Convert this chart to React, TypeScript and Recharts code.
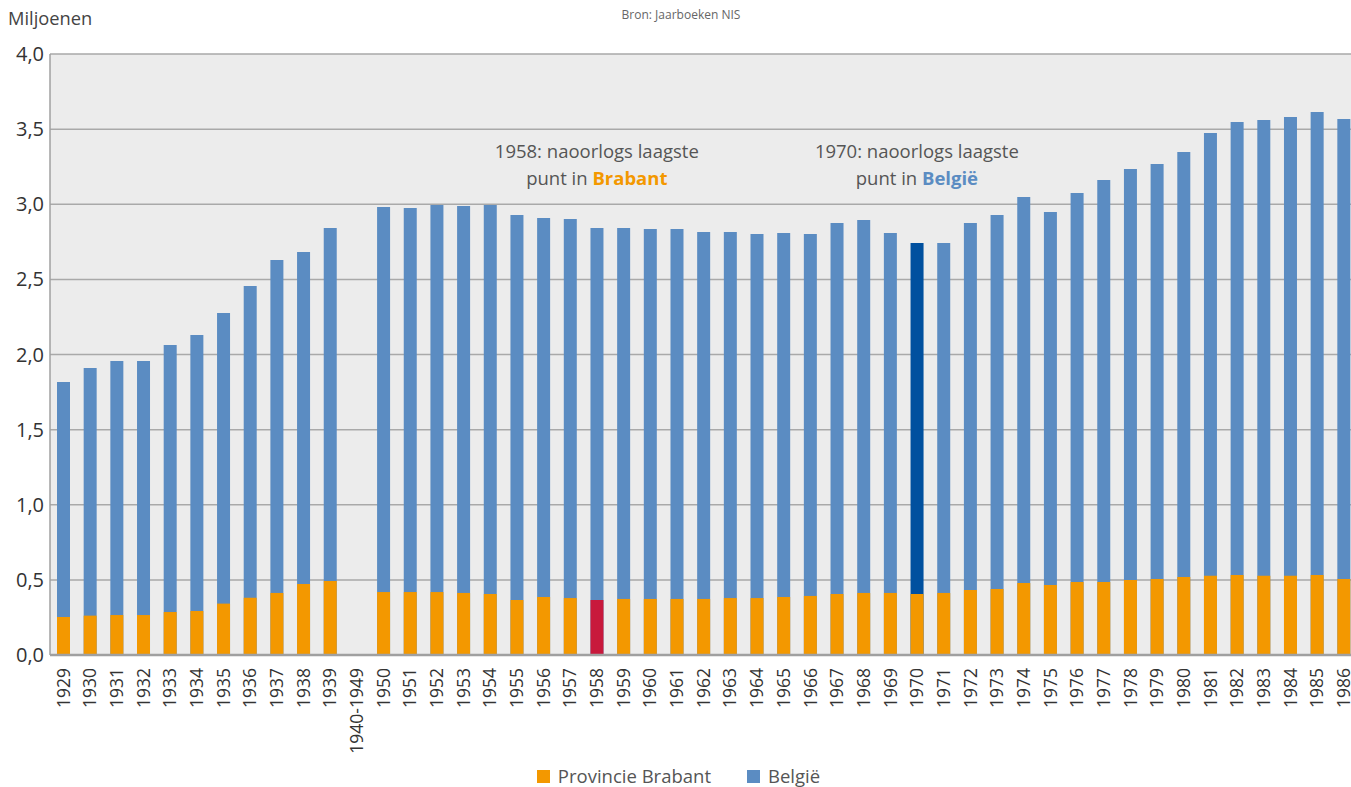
import React from 'react';
import {
  BarChart,
  Bar,
  XAxis,
  YAxis,
  CartesianGrid,
  Cell,
  Legend,
  ReferenceDot,
} from 'recharts';

// Werkloosheid / bevolking in miljoenen, per jaar (1940-1949 samengevoegd)
const years = [
  '1929', '1930', '1931', '1932', '1933', '1934', '1935', '1936', '1937', '1938', '1939',
  '1940-1949',
  '1950', '1951', '1952', '1953', '1954', '1955', '1956', '1957', '1958', '1959',
  '1960', '1961', '1962', '1963', '1964', '1965', '1966', '1967', '1968', '1969',
  '1970', '1971', '1972', '1973', '1974', '1975', '1976', '1977', '1978', '1979',
  '1980', '1981', '1982', '1983', '1984', '1985', '1986',
];

const belgie = [
  1.817, 1.91, 1.957, 1.957, 2.063, 2.13, 2.276, 2.456, 2.629, 2.683, 2.842,
  0.006,
  2.982, 2.975, 2.995, 2.988, 2.995, 2.928, 2.908, 2.902, 2.842, 2.842,
  2.835, 2.835, 2.815, 2.815, 2.802, 2.808, 2.802, 2.875, 2.895, 2.808,
  2.742, 2.742, 2.875, 2.928, 3.048, 2.948, 3.075, 3.161, 3.234, 3.268,
  3.348, 3.474, 3.547, 3.561, 3.581, 3.614, 3.567,
];

const brabant = [
  0.253, 0.262, 0.266, 0.266, 0.286, 0.293, 0.342, 0.381, 0.413, 0.473, 0.493,
  0,
  0.419, 0.419, 0.419, 0.413, 0.406, 0.366, 0.386, 0.379, 0.366, 0.373,
  0.373, 0.373, 0.373, 0.379, 0.379, 0.386, 0.393, 0.406, 0.413, 0.413,
  0.406, 0.413, 0.433, 0.439, 0.479, 0.466, 0.486, 0.486, 0.499, 0.506,
  0.519, 0.528, 0.532, 0.528, 0.528, 0.532, 0.506,
];

const yTicks = [0, 0.5, 1, 1.5, 2, 2.5, 3, 3.5, 4];

const lowBrabantYear = '1958';
const lowBelgieYear = '1970';

const COLORS = {
  belgie: '#5b8cc2',
  belgieLow: '#00509f',
  brabant: '#f39800',
  brabantLow: '#c8193c',
  text: '#555555',
  axis: '#333333',
  grid: '#a9a9a9',
  plot: '#ececec',
};

const FONT = '"Open Sans", "Noto Sans", sans-serif';

const data = years.map((year, i) => ({
  year,
  belgie: belgie[i],
  brabant: brabant[i],
}));

const fmt = (v: number) => v.toFixed(1).replace('.', ',');

const YearTick = (props: any) => {
  const { x, y, payload } = props;
  return (
    <g transform={`translate(${x},${y + 5})`}>
      <text
        transform="rotate(-90)"
        textAnchor="end"
        dy="0.36em"
        fontSize={17.5}
        fontFamily={FONT}
        fill={COLORS.axis}
      >
        {payload.value}
      </text>
    </g>
  );
};

const makeNote = (year: string, name: string, color: string) => (props: any) => {
  const vb = props.viewBox || {};
  const cx = (vb.x ?? 0) + (vb.width ?? 0) / 2;
  const cy = (vb.y ?? 0) + (vb.height ?? 0) / 2;
  return (
    <g fontFamily={FONT} fontSize={18.5} fill={COLORS.text} textAnchor="middle">
      <text x={cx} y={cy} dy="0.35em">
        {`${year}: naoorlogs laagste`}
      </text>
      <text x={cx} y={cy + 27} dy="0.35em">
        punt in <tspan fill={color} fontWeight="bold">{name}</tspan>
      </text>
    </g>
  );
};

const LegendContent = () => (
  <div
    style={{
      display: 'flex',
      justifyContent: 'center',
      gap: 36,
      paddingTop: 24,
      fontFamily: FONT,
      fontSize: 18.5,
      lineHeight: '18px',
      color: COLORS.text,
    }}
  >
    {[
      { label: 'Provincie Brabant', color: COLORS.brabant },
      { label: 'België', color: COLORS.belgie },
    ].map((item) => (
      <div key={item.label} style={{ display: 'flex', alignItems: 'center' }}>
        <span
          style={{
            display: 'inline-block',
            width: 13,
            height: 13,
            background: item.color,
            marginRight: 8,
          }}
        />
        <span>{item.label}</span>
      </div>
    ))}
  </div>
);

export default function App() {
  return (
    <div
      style={{
        position: 'absolute',
        left: 0,
        top: 0,
        width: 1351,
        height: 787,
        overflow: 'hidden',
        background: '#ffffff',
      }}
    >
      <div
        style={{
          position: 'absolute',
          left: 8,
          top: 5,
          fontFamily: FONT,
          fontSize: 18.3,
          color: '#444444',
        }}
      >
        Miljoenen
      </div>
      <div
        style={{
          position: 'absolute',
          left: 0,
          width: 1362,
          top: 6,
          textAlign: 'center',
          fontFamily: FONT,
          fontSize: 12,
          color: '#666666',
        }}
      >
        Bron: Jaarboeken NIS
      </div>
      <BarChart
        width={1358}
        height={787}
        data={data}
        margin={{ top: 54, right: 1, left: 0, bottom: 0 }}
        barCategoryGap="0%"
      >
        <CartesianGrid
          vertical={false}
          stroke={COLORS.grid}
          strokeWidth={1.5}
          fill={COLORS.plot}
          xAxisId="front"
        />
        <XAxis
          xAxisId="front"
          dataKey="year"
          interval={0}
          height={88}
          tick={<YearTick />}
          tickLine={false}
          axisLine={{ stroke: '#a0a0a0', strokeWidth: 2.5 }}
        />
        <XAxis xAxisId="back" dataKey="year" orientation="top" height={0} hide />
        <YAxis
          width={50}
          domain={[0, 4]}
          ticks={yTicks}
          tickFormatter={fmt}
          tickLine={false}
          tickSize={0}
          tickMargin={6}
          axisLine={{ stroke: '#a0a0a0', strokeWidth: 1.5 }}
          tick={{ fontSize: 20, fill: COLORS.axis, fontFamily: FONT }}
          interval={0}
        />
        <Legend verticalAlign="bottom" height={44} content={<LegendContent />} />
        <Bar
          xAxisId="back"
          dataKey="belgie"
          name="België"
          barSize={13}
          fill={COLORS.belgie}
          isAnimationActive={false}
        >
          {data.map((d) => (
            <Cell
              key={`be-${d.year}`}
              fill={d.year === lowBelgieYear ? COLORS.belgieLow : COLORS.belgie}
            />
          ))}
        </Bar>
        <Bar
          xAxisId="front"
          dataKey="brabant"
          name="Provincie Brabant"
          barSize={13}
          fill={COLORS.brabant}
          isAnimationActive={false}
        >
          {data.map((d) => (
            <Cell
              key={`br-${d.year}`}
              fill={d.year === lowBrabantYear ? COLORS.brabantLow : COLORS.brabant}
            />
          ))}
        </Bar>
        <ReferenceDot
          xAxisId="front"
          x={lowBrabantYear}
          y={3.35}
          r={0}
          fill="none"
          stroke="none"
          label={makeNote(lowBrabantYear, 'Brabant', COLORS.brabant)}
        />
        <ReferenceDot
          xAxisId="front"
          x={lowBelgieYear}
          y={3.35}
          r={0}
          fill="none"
          stroke="none"
          label={makeNote(lowBelgieYear, 'België', COLORS.belgie)}
        />
      </BarChart>
    </div>
  );
}
